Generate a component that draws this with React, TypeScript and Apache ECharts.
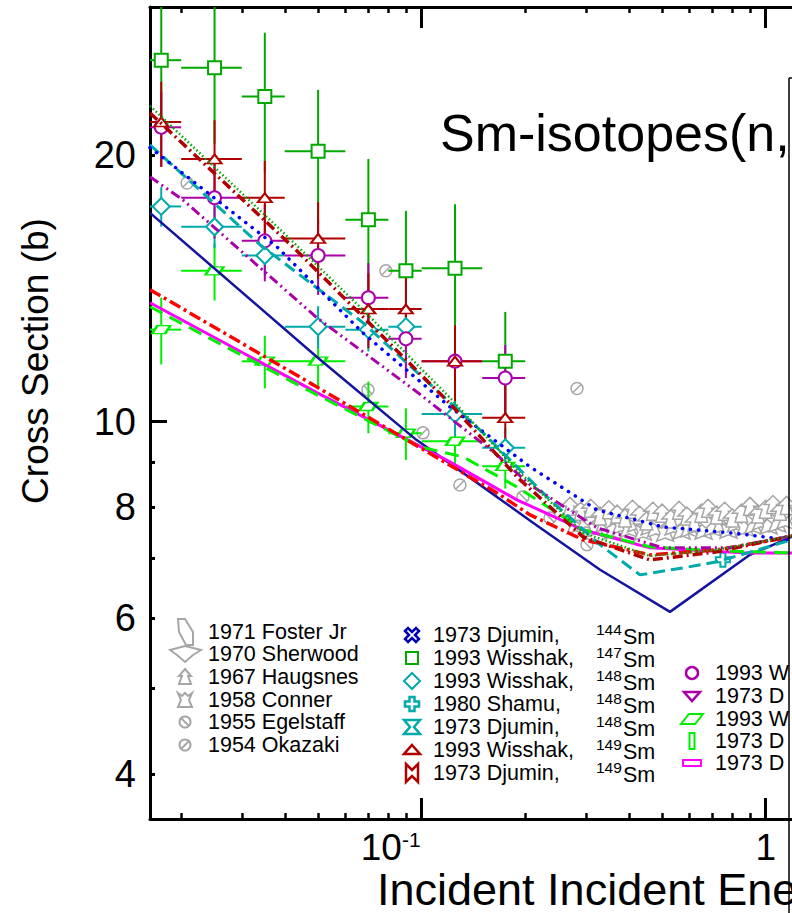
import React, { useEffect, useRef } from 'react';
import * as echarts from 'echarts';

// ---------- axes ----------
const X_MIN = 0.01623;
const X_MAX = 1.1927;
const Y_MIN = 3.556;
const Y_MAX = 29.4;
const xMajorTicks = [0.1, 1];
const xMinorTicks = [0.02, 0.03, 0.04, 0.05, 0.06, 0.07, 0.08, 0.09, 0.2, 0.3, 0.4, 0.5, 0.6, 0.7, 0.8, 0.9];
const xTickLabels = [0.1, 1];
const yMajorTicks = [10];
const yMinorTicks = [4, 5, 6, 7, 8, 9, 20];
const yTickLabels = [4, 6, 8, 10, 20];

// ---------- 1993 Wisshak energy bins (MeV) ----------
const wisshakE = [0.0175, 0.025, 0.035, 0.05, 0.07, 0.09, 0.125, 0.175];
const wisshakElo = [0.015, 0.02, 0.03, 0.04, 0.06, 0.08, 0.1, 0.15];
const wisshakEhi = [0.02, 0.03, 0.04, 0.06, 0.08, 0.1, 0.15, 0.2];

const sm147 = [25.6, 25.1, 23.3, 20.2, 16.9, 14.8, 14.9, 11.7];
const sm147Err = [4.5, 4.5, 4.2, 3.5, 2.9, 2.5, 2.7, 1.6];
const sm148 = [17.5, 16.6, 15.4, 12.8, 12.7, 12.8, 10.2, 9.34];
const sm148Err = [0.9, 0.9, 0.8, 0.7, 0.7, 0.7, 0.6, 0.5];
const sm149 = [21.8, 19.8, 17.9, 16.1, 13.4, 13.4, 11.7, 10.1];
const sm149Err = [2.4, 2.1, 1.8, 1.6, 1.3, 1.2, 1.15, 1.0];
const sm150 = [21.5, 17.9, 16.0, 15.4, 13.8, 12.4, 11.7, 11.2];
const sm150Err = [2.1, 1.8, 1.6, 1.5, 1.3, 1.2, 1.1, 1.0];
const sm152 = [12.7, 14.8, 11.7, 11.7, 10.4, 9.7, 9.5, 8.9];
const sm152Err = [1.1, 1.1, 0.8, 0.8, 0.7, 0.65, 0.6, 0.5];

// ---------- other experiments ----------
const shamuE = [0.751];
const shamuXS = [6.98];
const okazakiE = [0.0208, 0.0787, 0.1009, 0.1292, 0.2829];
const okazakiXS = [18.6, 14.8, 9.71, 8.48, 10.9];
const egelstaffE = [0.0698, 0.197, 0.2361, 0.3024];
const egelstaffXS = [10.86, 8.22, 7.78, 7.26];
const haugsnesE = [0.27, 0.29, 0.31, 0.33, 0.35, 0.37, 0.39, 0.41, 0.43, 0.45, 0.47, 0.5, 0.53, 0.56, 0.59, 0.62, 0.65, 0.68, 0.72, 0.76, 0.8, 0.85, 0.9, 0.95, 1.0, 1.05, 1.1, 1.15, 1.2];
const haugsnesXS = [8.02, 7.92, 7.98, 7.82, 7.95, 7.86, 7.78, 7.96, 7.84, 7.72, 7.92, 7.88, 7.76, 7.94, 7.82, 7.7, 7.88, 7.98, 7.84, 7.92, 7.78, 7.88, 8.02, 7.86, 7.96, 8.06, 7.92, 8.04, 7.98];
const connerE = [0.28, 0.3, 0.32, 0.34, 0.36, 0.38, 0.4, 0.42, 0.44, 0.46, 0.48, 0.51, 0.54, 0.57, 0.6, 0.63, 0.66, 0.7, 0.74, 0.78, 0.82, 0.87, 0.92, 0.97, 1.02, 1.08, 1.14, 1.2];
const connerXS = [7.62, 7.7, 7.56, 7.66, 7.52, 7.62, 7.56, 7.66, 7.5, 7.6, 7.56, 7.48, 7.6, 7.52, 7.56, 7.62, 7.52, 7.58, 7.62, 7.54, 7.66, 7.58, 7.62, 7.7, 7.62, 7.66, 7.72, 7.76];
const sherwoodE = [0.285, 0.305, 0.325, 0.345, 0.365, 0.385, 0.405, 0.425, 0.445, 0.465, 0.49, 0.52, 0.55, 0.58, 0.61, 0.64, 0.67, 0.71, 0.75, 0.79, 0.84, 0.89, 0.94, 0.99, 1.04, 1.09, 1.15];
const sherwoodXS = [7.8, 7.75, 7.85, 7.7, 7.8, 7.72, 7.86, 7.74, 7.8, 7.84, 7.7, 7.8, 7.72, 7.84, 7.76, 7.8, 7.7, 7.82, 7.76, 7.72, 7.82, 7.76, 7.8, 7.84, 7.8, 7.86, 7.9];

// ---------- evaluated curves [E, XS] ----------
const evalNavy: [number, number][] = [[0.01623, 17.21], [0.04961, 11.83], [0.0965, 9.535], [0.1655, 8.22], [0.2107, 7.685], [0.33, 6.8], [0.527, 6.095], [0.9, 7.07], [1.19, 7.41]];
const evalBlue: [number, number][] = [[0.01623, 20.39], [0.03797, 15.75], [0.06753, 12.59], [0.1208, 10.39], [0.2066, 8.889], [0.3233, 7.946], [0.5029, 7.603], [0.7875, 7.487], [1.1765, 7.35]];
const evalGreenDot: [number, number][] = [[0.01623, 22.73], [0.04225, 15.96], [0.06753, 13.37], [0.1208, 10.64], [0.1892, 8.82], [0.2943, 7.487], [0.461, 7.051], [0.7218, 7.162], [1.1925, 7.429]];
const evalDarkRed: [number, number][] = [[0.01623, 22.32], [0.04225, 15.75], [0.1208, 10.48], [0.1892, 8.66], [0.2943, 7.41], [0.461, 6.977], [0.7218, 7.125], [1.1925, 7.429]];
const evalPurple: [number, number][] = [[0.01623, 18.9], [0.02023, 17.8], [0.04961, 13.1], [0.0969, 10.8], [0.1655, 9.171], [0.2066, 8.482], [0.3233, 7.585], [0.5029, 7.2], [0.7875, 7.2], [1.1925, 7.429]];
const evalCyan: [number, number][] = [[0.01623, 20.54], [0.03388, 15.84], [0.06753, 12.93], [0.1508, 9.71], [0.236, 8.157], [0.3301, 7.257], [0.4311, 6.711], [0.5749, 6.834], [0.7218, 6.942], [1.1925, 7.353]];
const evalRed: [number, number][] = [[0.01623, 14.09], [0.04961, 10.94], [0.1655, 8.306], [0.2066, 7.844], [0.2943, 7.353], [0.461, 7.069], [0.7218, 7.162], [1.1925, 7.41]];
const evalGreenDash: [number, number][] = [[0.01623, 13.48], [0.04961, 10.72], [0.09887, 9.363], [0.1318, 9.123], [0.1892, 8.437], [0.2943, 7.546], [0.461, 7.219], [0.7218, 7.144], [1.1925, 7.106]];
const evalMagenta: [number, number][] = [[0.01623, 13.62], [0.04961, 10.78], [0.1208, 9.005], [0.1892, 8.157], [0.2943, 7.546], [0.461, 7.2], [0.859, 7.106], [1.1925, 7.106]];

// ---------- legend texts ----------
const legendCol1 = ['1971 Foster Jr', '1970 Sherwood', '1967 Haugsnes', '1958 Conner', '1955 Egelstaff', '1954 Okazaki'];
const legendCol2 = ['1973 Djumin,', '1993 Wisshak,', '1993 Wisshak,', '1980 Shamu,', '1973 Djumin,', '1993 Wisshak,', '1973 Djumin,'];
const legendCol2Mass = ['144', '147', '148', '148', '148', '149', '149'];
const legendCol3 = ['1993 W', '1973 D', '1993 W', '1973 D', '1973 D'];

const FONT = '"Liberation Sans", Arial, Helvetica, sans-serif';
const GREY = '#A6A6A6';
const C_GREEN = '#00A800';
const C_CYAN = '#00AAAA';
const C_DRED = '#B00000';
const C_PURPLE = '#AA00AA';
const C_LIME = '#00EE00';
const C_NAVY = '#1414A0';
const C_MAG = '#FF00FF';
const LEG_FS = 21.5;

const SYM_SLASH = 'path://M0,5A5,5,0,1,1,10,5A5,5,0,1,1,0,5ZM1.6,8.4L8.4,1.6';
const SYM_BSLASH = 'path://M0,5A5,5,0,1,1,10,5A5,5,0,1,1,0,5ZM1.6,1.6L8.4,8.4';
const SYM_HAUG = 'path://M5,0L10,5L7,5L8.5,10L1.5,10L3,5L0,5Z';
const SYM_CONNER = 'path://M0,0L3,2L5,0L7,2L10,0L8,5L10,10L5,8L0,10L2,5Z';
const SYM_SHERWOOD = 'path://M0,3L10,0L20,3L15,6L10,10L5,6Z';
const SYM_PLUS = 'path://M3.2,0H6.8V3.2H10V6.8H6.8V10H3.2V6.8H0V3.2H3.2Z';
const SYM_PARA = 'path://M4,0L14,0L10,6L0,6Z';

function errorBars(name: string, color: string, ys: number[], errs: number[]) {
  const data = wisshakE.map((x, i) => [
    x,
    ys[i],
    Math.max(wisshakElo[i], X_MIN),
    Math.min(wisshakEhi[i], X_MAX),
    Math.max(ys[i] - errs[i], Y_MIN),
    Math.min(ys[i] + errs[i], Y_MAX),
  ]);
  return {
    type: 'custom',
    name,
    clip: true,
    z: 2,
    data,
    renderItem: (_p: any, api: any) => {
      const l = api.coord([api.value(2), api.value(1)]);
      const r = api.coord([api.value(3), api.value(1)]);
      const b = api.coord([api.value(0), api.value(4)]);
      const t = api.coord([api.value(0), api.value(5)]);
      return {
        type: 'group',
        children: [
          { type: 'line', shape: { x1: l[0], y1: l[1], x2: r[0], y2: r[1] }, style: { stroke: color, lineWidth: 2 } },
          { type: 'line', shape: { x1: b[0], y1: b[1], x2: t[0], y2: t[1] }, style: { stroke: color, lineWidth: 2 } },
        ],
      };
    },
  };
}

function markers(name: string, xs: number[], ys: number[], symbol: string, size: any, color: string, fill = '#fff', bw = 2, z = 3) {
  return {
    type: 'scatter',
    name,
    z,
    data: xs.map((x, i) => [x, ys[i]]),
    symbol,
    symbolSize: size,
    itemStyle: { color: fill, borderColor: color, borderWidth: bw, opacity: 1 },
  };
}

function curve(name: string, data: [number, number][], color: string, width: number, type: any, cap: string = 'butt') {
  return {
    type: 'line',
    name,
    data,
    symbol: 'none',
    showSymbol: false,
    z: 5,
    lineStyle: { color, width, type, cap },
  };
}

function poly(cx: number, cy: number, pts: number[][], color: string, fill = 'none', lw = 2) {
  return {
    type: 'polygon',
    z: 100,
    shape: { points: pts.map(([dx, dy]) => [cx + dx, cy + dy]) },
    style: { stroke: color, fill, lineWidth: lw },
  };
}

function txt(text: string, x: number, y: number, size: number, extra: any = {}) {
  return {
    type: 'text',
    z: 100,
    x,
    y,
    style: { text, fontSize: size, fontFamily: FONT, fill: '#000', align: 'left', verticalAlign: 'middle', ...extra },
  };
}

function buildGraphic() {
  const els: any[] = [];
  els.push(txt('Sm-isotopes(n,', 440, 133, 52));
  els.push(txt('Incident Incident Ene', 377, 889, 45));
  els.push({
    type: 'text',
    z: 100,
    x: 35,
    y: 361,
    rotation: Math.PI / 2,
    style: { text: 'Cross Section (b)', fontSize: 37, fontFamily: FONT, fill: '#000', align: 'center', verticalAlign: 'middle' },
  });
  els.push({ type: 'line', z: 100, shape: { x1: 789, y1: 78, x2: 789, y2: 913 }, style: { stroke: '#000', lineWidth: 1.5 } });
  els.push({ type: 'line', z: 100, shape: { x1: 789, y1: 78, x2: 800, y2: 78 }, style: { stroke: '#000', lineWidth: 1.5 } });

  // legend column 1
  const c1x = 185;
  const r1 = [632, 654, 677, 700, 722, 745];
  els.push(poly(c1x, r1[0], [[-7, -13], [0, -13], [8, 0], [8, 13], [1, 13], [-6, 0]], GREY));
  els.push(poly(c1x, r1[1], [[-15, -4], [0, -8], [16, -4], [8, 1], [0, 8], [-8, 1]], GREY));
  els.push(poly(c1x, r1[2], [[0, -8], [6, -1], [3, -1], [6, 7], [-6, 7], [-3, -1], [-6, -1]], GREY));
  els.push(poly(c1x, r1[3], [[-7, -7], [-3, -4], [0, -7], [3, -4], [7, -7], [4, 0], [7, 7], [-7, 7], [-4, 0]], GREY));
  els.push({ type: 'circle', z: 100, shape: { cx: c1x, cy: r1[4], r: 5.5 }, style: { stroke: GREY, fill: 'none', lineWidth: 2 } });
  els.push({ type: 'line', z: 100, shape: { x1: c1x - 4, y1: r1[4] - 4, x2: c1x + 4, y2: r1[4] + 4 }, style: { stroke: GREY, lineWidth: 2 } });
  els.push({ type: 'circle', z: 100, shape: { cx: c1x, cy: r1[5], r: 5.5 }, style: { stroke: GREY, fill: 'none', lineWidth: 2 } });
  els.push({ type: 'line', z: 100, shape: { x1: c1x - 4, y1: r1[5] + 4, x2: c1x + 4, y2: r1[5] - 4 }, style: { stroke: GREY, lineWidth: 2 } });
  legendCol1.forEach((t, i) => els.push(txt(t, 208, r1[i], LEG_FS)));

  // legend column 2
  const c2x = 412;
  const r2 = [635, 658, 681, 704, 727, 750, 773];
  els.push(poly(c2x, r2[0], [[-7, -4], [-4, -7], [0, -3], [4, -7], [7, -4], [3, 0], [7, 4], [4, 7], [0, 3], [-4, 7], [-7, 4], [-3, 0]], '#0000B0', 'none', 2.5));
  els.push({ type: 'rect', z: 100, shape: { x: c2x - 6, y: r2[1] - 6, width: 12, height: 12 }, style: { stroke: C_GREEN, fill: 'none', lineWidth: 2 } });
  els.push(poly(c2x, r2[2], [[0, -8], [8, 0], [0, 8], [-8, 0]], C_CYAN));
  els.push(poly(c2x, r2[3], [[-2.5, -7], [2.5, -7], [2.5, -2.5], [7, -2.5], [7, 2.5], [2.5, 2.5], [2.5, 7], [-2.5, 7], [-2.5, 2.5], [-7, 2.5], [-7, -2.5], [-2.5, -2.5]], C_CYAN, 'none', 2.5));
  els.push(poly(c2x, r2[4], [[-8, -7], [8, -7], [2, 0], [8, 7], [-8, 7], [-2, 0]], C_CYAN, 'none', 2.5));
  els.push(poly(c2x, r2[5], [[0, -5], [8, 4], [-8, 4]], C_DRED, 'none', 2.5));
  els.push(poly(c2x, r2[6], [[-6, -9], [0, -3], [6, -9], [6, 9], [0, 3], [-6, 9]], C_DRED, 'none', 2.5));
  legendCol2.forEach((t, i) => {
    els.push(txt(t, 433, r2[i], LEG_FS));
    els.push(txt(legendCol2Mass[i], 596, r2[i] - 6, 15.5));
    els.push(txt('Sm', 623, r2[i] + 2, LEG_FS));
  });

  // legend column 3
  const c3x = 692;
  const r3 = [673, 696, 719, 741, 763];
  els.push({ type: 'circle', z: 100, shape: { cx: c3x, cy: r3[0], r: 6 }, style: { stroke: C_PURPLE, fill: 'none', lineWidth: 2.5 } });
  els.push(poly(c3x, r3[1], [[-8, -4], [8, -4], [0, 5]], C_PURPLE, 'none', 2.5));
  els.push(poly(c3x, r3[2], [[-3, -5], [11, -5], [3, 5], [-11, 5]], C_LIME, 'none', 2));
  els.push({ type: 'rect', z: 100, shape: { x: c3x - 2.5, y: r3[3] - 8, width: 5, height: 16 }, style: { stroke: C_LIME, fill: 'none', lineWidth: 2 } });
  els.push({ type: 'rect', z: 100, shape: { x: c3x - 9, y: r3[4] - 3, width: 18, height: 6 }, style: { stroke: C_MAG, fill: 'none', lineWidth: 2 } });
  legendCol3.forEach((t, i) => els.push(txt(t, 715, r3[i], LEG_FS)));
  return els;
}

function xAxis(position: 'top' | 'bottom', ticks: number[], len: number, width: number, showLine: boolean, labels: boolean) {
  return {
    type: 'log',
    logBase: 10,
    position,
    min: X_MIN,
    max: X_MAX,
    splitLine: { show: false },
    axisLine: { show: showLine, onZero: false, lineStyle: { color: '#000', width: 3 } },
    axisTick: { show: true, inside: true, length: len, customValues: ticks, lineStyle: { color: '#000', width } },
    axisLabel: labels
      ? {
          show: true,
          customValues: xTickLabels,
          margin: 10,
          color: '#000',
          fontFamily: FONT,
          formatter: (v: number) => (Math.abs(v - 0.1) < 1e-6 ? '{a|10}{b|-1}' : '{a|1}'),
          rich: {
            a: { fontSize: 37, fontFamily: FONT, color: '#000' },
            b: { fontSize: 21, fontFamily: FONT, color: '#000', verticalAlign: 'top', padding: [0, 62, 0, 0] },
          },
        }
      : { show: false },
  };
}

function yAxis(ticks: number[], len: number, width: number, showLine: boolean, labels: boolean) {
  return {
    type: 'log',
    logBase: 10,
    position: 'left',
    min: Y_MIN,
    max: Y_MAX,
    splitLine: { show: false },
    axisLine: { show: showLine, onZero: false, lineStyle: { color: '#000', width: 3 } },
    axisTick: { show: true, inside: true, length: len, customValues: ticks, lineStyle: { color: '#000', width } },
    axisLabel: labels
      ? { show: true, customValues: yTickLabels, margin: 14, color: '#000', fontSize: 38, fontFamily: FONT, formatter: (v: number) => String(Math.round(v)) }
      : { show: false },
  };
}

function buildOption() {
  return {
    animation: false,
    backgroundColor: '#fff',
    grid: { left: 150, top: 7, right: 0, height: 812 },
    xAxis: [
      xAxis('bottom', xMajorTicks, 21, 3, true, true),
      xAxis('bottom', xMinorTicks, 6, 2.5, false, false),
      xAxis('top', xMajorTicks, 21, 3, true, false),
      xAxis('top', xMinorTicks, 6, 2.5, false, false),
    ],
    yAxis: [yAxis(yMajorTicks, 17, 3, true, true), yAxis(yMinorTicks, 5, 3, false, false)],
    series: [
      markers('1958 Conner', connerE, connerXS, SYM_CONNER, [17, 16], GREY, '#fff', 1.5, 1),
      markers('1970 Sherwood', sherwoodE, sherwoodXS, SYM_SHERWOOD, [22, 12], GREY, '#fff', 1.5, 1),
      markers('1967 Haugsnes', haugsnesE, haugsnesXS, SYM_HAUG, [18, 18], GREY, '#fff', 1.5, 1),
      markers('1955 Egelstaff', egelstaffE, egelstaffXS, SYM_BSLASH, [12, 12], GREY, '#fff', 1.5, 1),
      markers('1954 Okazaki', okazakiE, okazakiXS, SYM_SLASH, [12, 12], GREY, '#fff', 1.5, 1),
      errorBars('147Sm err', C_GREEN, sm147, sm147Err),
      errorBars('152Sm err', C_LIME, sm152, sm152Err),
      errorBars('148Sm err', C_CYAN, sm148, sm148Err),
      errorBars('150Sm err', C_PURPLE, sm150, sm150Err),
      errorBars('149Sm err', C_DRED, sm149, sm149Err),
      markers('1993 Wisshak 147Sm', wisshakE, sm147, 'rect', [13, 13], C_GREEN),
      markers('1993 Wisshak 152Sm', wisshakE, sm152, SYM_PARA, [18, 8], C_LIME),
      markers('1993 Wisshak 148Sm', wisshakE, sm148, 'diamond', [17, 17], C_CYAN),
      markers('1993 Wisshak 150Sm', wisshakE, sm150, 'circle', [13, 13], C_PURPLE),
      markers('1993 Wisshak 149Sm', wisshakE, sm149, 'triangle', [14, 9], C_DRED),
      markers('1980 Shamu 148Sm', shamuE, shamuXS, SYM_PLUS, [14, 14], C_CYAN),
      curve('eval navy', evalNavy, C_NAVY, 2.5, 'solid'),
      curve('eval magenta', evalMagenta, C_MAG, 3, 'solid'),
      curve('eval green dashed', evalGreenDash, C_LIME, 3, [14, 8]),
      curve('eval red', evalRed, '#FF0000', 3.5, [12, 4, 3, 4]),
      curve('eval cyan', evalCyan, C_CYAN, 3, [12, 6]),
      curve('eval purple', evalPurple, C_PURPLE, 3, [10, 4, 2, 4, 2, 4]),
      curve('eval blue', evalBlue, '#0000FF', 3.5, [0.1, 8], 'round'),
      curve('eval dark red', evalDarkRed, C_DRED, 3.5, [10, 4, 2, 4]),
      curve('eval green dotted', evalGreenDot, C_GREEN, 2.5, [1.5, 2.5]),
    ],
    graphic: { elements: buildGraphic() },
  };
}

export default function App() {
  const ref = useRef<HTMLDivElement>(null);
  useEffect(() => {
    if (!ref.current) return;
    const chart = echarts.init(ref.current, null, { renderer: 'svg' });
    chart.setOption(buildOption() as any);
    return () => chart.dispose();
  }, []);
  return (
    <div style={{ position: 'fixed', left: 0, top: 0, width: 792, height: 913, overflow: 'hidden', background: '#fff' }}>
      <div ref={ref} style={{ width: 792, height: 913 }} />
    </div>
  );
}
